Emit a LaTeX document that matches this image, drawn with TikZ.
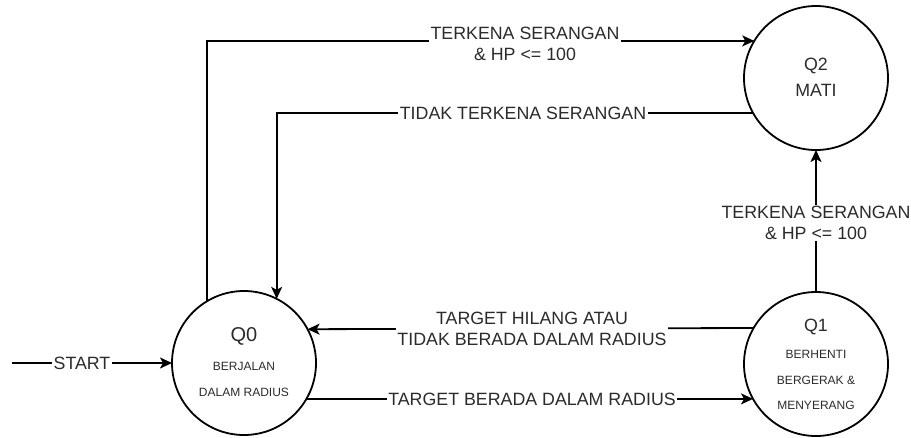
\documentclass[tikz,border=0pt]{standalone}
\usepackage{fontspec}
\setmainfont{Liberation Sans}
\usetikzlibrary{arrows.meta}
\definecolor{txt}{HTML}{2B2B2B}
\tikzset{
  state/.style={circle, draw=black, line width=1.8pt, minimum size=144pt, inner sep=0pt, outer sep=0pt},
  edge/.style={draw=black, line width=1.8pt, -{Stealth[length=12pt, width=11pt, inset=3pt]}},
  lab/.style={fill=white, text=txt, align=center, inner xsep=1.5pt, inner ysep=1pt, font=\fontsize{17.8}{21}\selectfont},
  bigtxt/.style={text=txt, inner sep=0pt, text height=0.716em, text depth=0pt, font=\fontsize{17.8}{21}\selectfont},
  smalltxt/.style={text=txt, inner sep=0pt, text height=0.716em, text depth=0pt, font=\fontsize{12}{14}\selectfont},
}
\begin{document}
\begin{tikzpicture}[x=1pt, y=-1pt]
\useasboundingbox (0,0) rectangle (911,437);
% states
\node[state] (q0) at (244,363) {};
\node[state] (q1) at (816,364) {};
\node[state] (q2) at (816,78) {};
% state texts
\node[bigtxt, font=\fontsize{20}{24}\selectfont] (q0a) at (244,338) {Q0};
\node[smalltxt] (q0b) at (244,367) {BERJALAN};
\node[smalltxt] (q0c) at (244,393) {DALAM RADIUS};
\node[bigtxt] (q1a) at (816,328) {Q1};
\node[smalltxt] (q1b) at (816,355) {BERHENTI};
\node[smalltxt] (q1c) at (816,381) {BERGERAK \&};
\node[smalltxt] (q1d) at (816,406) {MENYERANG};
\node[bigtxt] (q2a) at (816,67) {Q2};
\node[bigtxt] (q2b) at (816,93) {MATI};
% start
\coordinate (s) at (12,363);
\draw[edge] (s) -- (q0.west);
% edges
\draw[edge] (q0.121.9) |- (q2.149.1);
\draw[edge] (q2.209.1) -| (q0.63.6);
\draw[edge] (q1.150.9) -- (q0.28.2);
\draw[edge] (q0.-30) -- (q1.209.1);
\draw[edge] (q1.north) -- (q2.south);
% labels
\node[lab] (lstart) at (82,363) {START};
\node[lab] (ltop) at (525,44) {TERKENA SERANGAN\\\& HP <= 100};
\node[lab] (ltidak) at (523,113) {TIDAK TERKENA SERANGAN};
\node[lab] (lhilang) at (532,329) {TARGET HILANG ATAU\\TIDAK BERADA DALAM RADIUS};
\node[lab] (lberada) at (532,399) {TARGET BERADA DALAM RADIUS};
\node[lab] (lvert) at (816,223) {TERKENA SERANGAN\\\& HP <= 100};
\end{tikzpicture}
\end{document}
